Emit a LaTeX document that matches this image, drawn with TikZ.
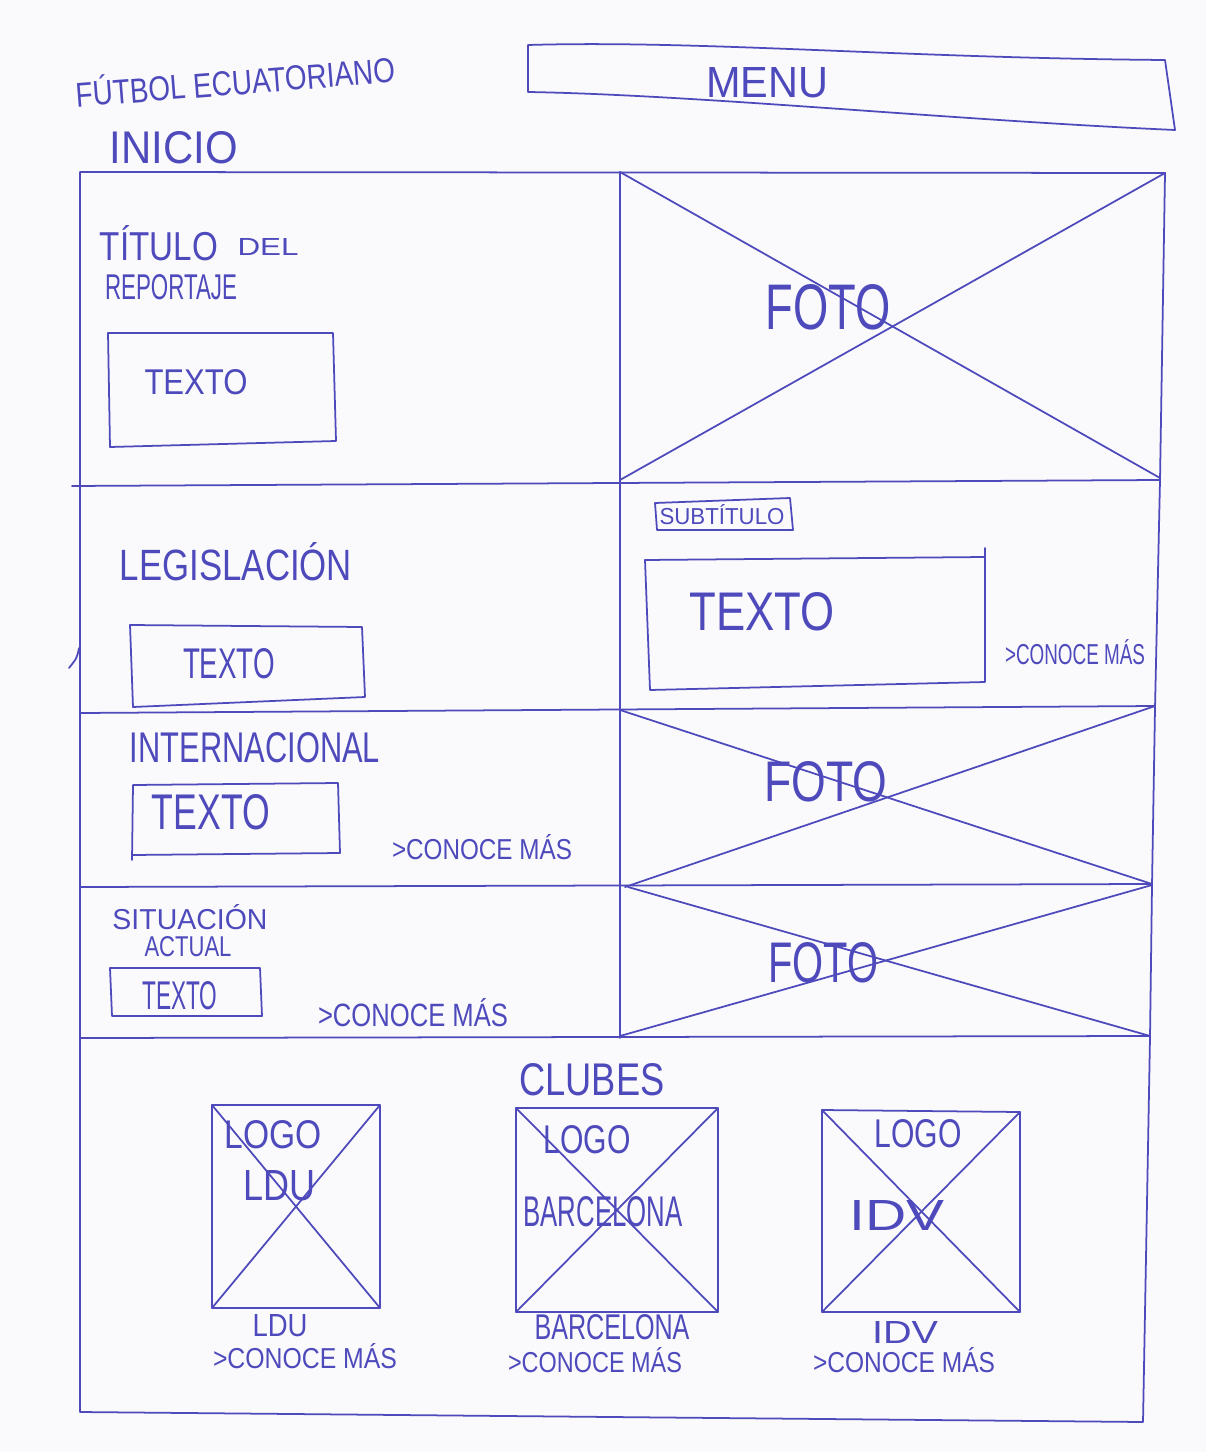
\documentclass[tikz,border=0pt]{standalone}
\usepackage{fontspec}
\setmainfont{Liberation Sans}
\usepackage{graphicx}
\newdimen\upx \upx=0.02cm
\newcommand{\hwt}[3]{\resizebox{#1\upx}{#2\upx}{#3}}
\definecolor{ink}{RGB}{78,74,188}
\definecolor{paper}{RGB}{250,250,253}
\tikzset{
  pen/.style={draw=ink, line width=1pt, line join=round, line cap=round},
  hw/.style={text=ink, inner sep=0pt, anchor=center},
}
\begin{document}
\begin{tikzpicture}[x=0.02cm,y=-0.02cm]
\useasboundingbox (0,0) rectangle (1206,1452);
\fill[paper] (0,0) rectangle (1206,1452);

% header
\node[hw, rotate=4.5] (title) at (235,80) {\hwt{320}{30}{FÚTBOL ECUATORIANO}};
\draw[pen] (528,45) .. controls (700,40) and (900,58) .. (1165,60) -- (1175,130) .. controls (950,120) and (700,95) .. (528,92) -- cycle;
\node[hw] (menu) at (767,83) {\hwt{122}{30}{MENU}};
\node[hw] (inicio) at (174,148) {\hwt{128}{32}{INICIO}};

% outer frame
\draw[pen] (80,172) -- (1165,173) -- (1160,480) -- (1155,708) -- (1152,885) -- (1150,1037) -- (1143,1422) -- (80,1412) -- cycle;
\draw[pen] (620,172) -- (620,1038);
\draw[pen] (72,486) -- (1160,480);
\draw[pen] (80,713) -- (1155,706);
\draw[pen] (80,887) -- (1152,884);
\draw[pen] (80,1038) -- (1150,1036);
\draw[pen] (79,648) .. controls (77,658) .. (69,668);

% section 1
\node[hw] (titulo) at (159,243) {\hwt{118}{35}{TÍTULO}};
\node[hw] (del) at (268,247) {\hwt{61}{17}{DEL}};
\node[hw] (reportaje) at (171,287) {\hwt{132}{25}{REPORTAJE}};
\draw[pen] (108,333) -- (333,333) -- (336,441) -- (110,447) -- cycle;
\node[hw] (texto1) at (196,382) {\hwt{103}{25}{TEXTO}};
\draw[pen] (620,172) -- (1160,478);
\draw[pen] (620,480) -- (1165,173);
\node[hw] (foto1) at (828,307) {\hwt{125}{45}{FOTO}};

% section 2
\node[hw] (legis) at (236,562) {\hwt{232}{38}{LEGISLACIÓN}};
\draw[pen] (130,625) -- (362,627) -- (365,697) -- (133,707) -- cycle;
\node[hw] (texto2) at (229,664) {\hwt{92}{30}{TEXTO}};
\draw[pen] (655,503) -- (790,498) -- (793,530) -- (657,530) -- cycle;
\node[hw] (subt) at (722,515) {\hwt{125}{20}{SUBTÍTULO}};
\draw[pen] (645,560) -- (985,557);
\draw[pen] (985,548) -- (985,682) -- (650,690) -- (645,560);
\node[hw] (texto3) at (762,612) {\hwt{145}{38}{TEXTO}};
\node[hw] (mas1) at (1075,652) {\hwt{140}{25}{>CONOCE MÁS}};

% section 3
\node[hw] (inter) at (255,748) {\hwt{250}{30}{INTERNACIONAL}};
\draw[pen] (132,860) -- (133,785) -- (338,783) -- (340,853) -- (132,855);
\node[hw] (texto4) at (211,812) {\hwt{118}{35}{TEXTO}};
\node[hw] (mas2) at (482,847) {\hwt{180}{25}{>CONOCE MÁS}};
\draw[pen] (620,710) -- (1152,884);
\draw[pen] (625,887) -- (1155,706);
\node[hw] (foto2) at (826,782) {\hwt{123}{40}{FOTO}};

% section 4
\node[hw] (situ) at (190,917) {\hwt{155}{25}{SITUACIÓN}};
\node[hw] (actual) at (188,947) {\hwt{87}{20}{ACTUAL}};
\draw[pen] (110,968) -- (260,968) -- (262,1016) -- (112,1016) -- cycle;
\node[hw] (texto5) at (180,996) {\hwt{75}{28}{TEXTO}};
\node[hw] (mas3) at (413,1013) {\hwt{190}{28}{>CONOCE MÁS}};
\draw[pen] (628,887) -- (1150,1036);
\draw[pen] (620,1036) -- (1152,885);
\node[hw] (foto3) at (823,963) {\hwt{110}{40}{FOTO}};

% section 5: clubes
\node[hw] (clubes) at (592,1080) {\hwt{145}{32}{CLUBES}};

\draw[pen] (212,1105) -- (380,1105) -- (380,1308) -- (212,1308) -- cycle;
\draw[pen] (212,1105) -- (380,1308);
\draw[pen] (380,1105) -- (212,1308);
\node[hw] (logo1) at (273,1135) {\hwt{97}{28}{LOGO}};
\node[hw] (ldu1) at (279,1186) {\hwt{72}{30}{LDU}};
\node[hw] (ldu2) at (280,1326) {\hwt{55}{22}{LDU}};
\node[hw] (mas4) at (305,1356) {\hwt{184}{25}{>CONOCE MÁS}};

\draw[pen] (516,1108) -- (718,1108) -- (718,1312) -- (516,1312) -- cycle;
\draw[pen] (516,1108) -- (718,1312);
\draw[pen] (718,1108) -- (516,1312);
\node[hw] (logo2) at (587,1140) {\hwt{87}{28}{LOGO}};
\node[hw] (barc1) at (603,1212) {\hwt{159}{30}{BARCELONA}};
\node[hw] (barc2) at (612,1327) {\hwt{155}{25}{BARCELONA}};
\node[hw] (mas5) at (595,1360) {\hwt{174}{25}{>CONOCE MÁS}};

\draw[pen] (822,1110) -- (1020,1112) -- (1020,1312) -- (822,1312) -- cycle;
\draw[pen] (822,1110) -- (1020,1312);
\draw[pen] (1020,1112) -- (822,1312);
\node[hw] (logo3) at (918,1134) {\hwt{87}{28}{LOGO}};
\node[hw] (idv1) at (897,1215) {\hwt{95}{30}{IDV}};
\node[hw] (idv2) at (905,1332) {\hwt{66}{22}{IDV}};
\node[hw] (mas6) at (904,1360) {\hwt{182}{25}{>CONOCE MÁS}};
\end{tikzpicture}
\end{document}
